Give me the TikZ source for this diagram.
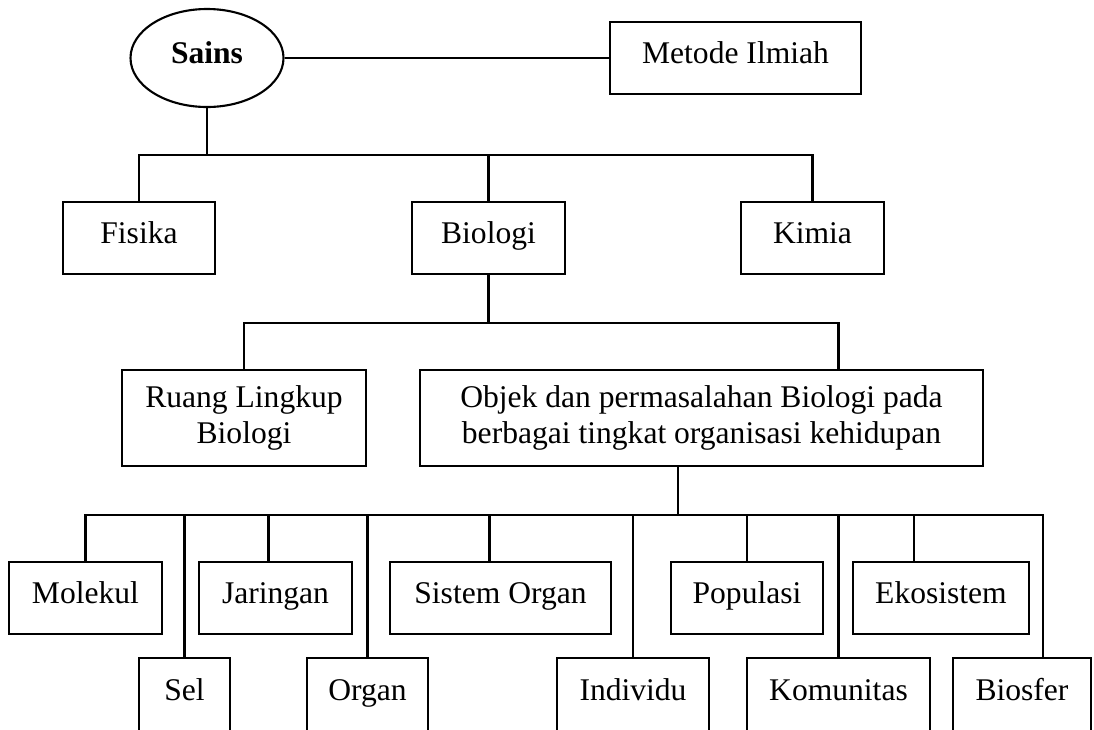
\documentclass[tikz,border=0pt]{standalone}
\usepackage{fontspec}
\setmainfont{Liberation Serif}
\usetikzlibrary{shapes.geometric}

\newcommand{\px}{0.38pt}

\tikzset{
    kotakdua/.style 2 args={draw, rectangle, line width=0.8pt, inner sep=0pt,
        minimum width=#1*\px, minimum height=#2*\px, align=center,
        font=\fontsize{12}{14}\selectfont},
    kotak/.style 2 args={kotakdua={#1}{#2}, text height=0.69em, text depth=0.3em},
    garis/.style={line width=0.8pt}
}

\begin{document}
\begin{tikzpicture}[x=\px, y=-\px]
    \useasboundingbox (0,0) rectangle (1094,729);

    \node[draw, ellipse, line width=0.8pt, inner sep=0pt, minimum width=153*\px,
        minimum height=98*\px, text height=0.69em, text depth=0.3em,
        font=\fontsize{12}{14}\selectfont\bfseries]
        (sains) at (207,58) {Sains};
    \node[kotak={251}{72}] (metode) at (735.5,58) {Metode Ilmiah};

    \node[kotak={152}{72}] (fisika)  at (139,238)   {Fisika};
    \node[kotak={153}{72}] (biologi) at (488.5,238) {Biologi};
    \node[kotak={143}{72}] (kimia)   at (812.5,238) {Kimia};

    \node[kotakdua={244}{96}] (ruang) at (244,418) {Ruang Lingkup\\Biologi};
    \node[kotakdua={563}{96}] (objek) at (701.5,418)
        {Objek dan permasalahan Biologi pada\\berbagai tingkat organisasi kehidupan};

    \node[kotak={153}{72}] (molekul)   at (85.5,598)  {Molekul};
    \node[kotak={153}{72}] (jaringan)  at (275.5,598) {Jaringan};
    \node[kotak={221}{72}] (sistem)    at (500.5,598) {Sistem Organ};
    \node[kotak={152}{72}] (populasi)  at (747,598)   {Populasi};
    \node[kotak={176}{72}] (ekosistem) at (941,598)   {Ekosistem};

    \node[kotak={91}{74}]  (sel)       at (184.5,695) {Sel};
    \node[kotak={121}{74}] (organ)     at (367.5,695) {Organ};
    \node[kotak={152}{74}] (individu)  at (633,695)   {Individu};
    \node[kotak={183}{74}] (komunitas) at (838.5,695) {Komunitas};
    \node[kotak={138}{74}] (biosfer)   at (1022,695)  {Biosfer};

    \draw[garis] (sains) -- (metode);
    \draw[garis] (sains.south) -- ++(0,47) coordinate (sainsBus);
    \draw[garis] (fisika) |- (sainsBus) -| (kimia);
    \draw[garis] (biologi.north) -- (biologi.north |- sainsBus);

    \draw[garis] (biologi.south) -- ++(0,48) coordinate (bioBus);
    \draw[garis] (ruang) |- (bioBus) -| ([xshift=137*\px]objek.north);

    \draw[garis] ([xshift=-23.5*\px]objek.south) -- ++(0,48) coordinate (orgBus);
    \draw[garis] (molekul) |- (orgBus) -| ([xshift=21*\px]biosfer.north);
    \foreach \n/\dx in {jaringan/-7, sistem/-11, populasi/0, ekosistem/-27,
        sel/0, organ/0, individu/0, komunitas/0}
        \draw[garis] ([xshift=\dx*\px]\n.north) -- ([xshift=\dx*\px]\n.north |- orgBus);

\end{tikzpicture}
\end{document}
